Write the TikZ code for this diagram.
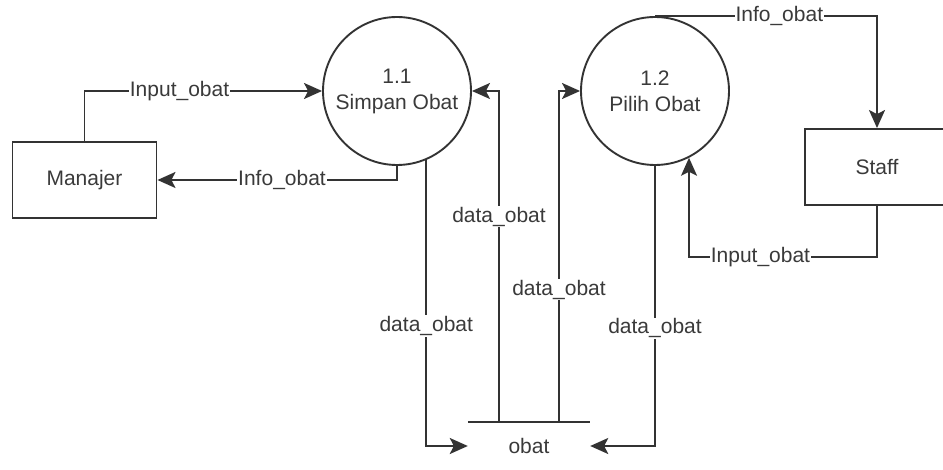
\documentclass[tikz,border=0pt]{standalone}
\usepackage{fontspec}
\setmainfont{Liberation Sans}
\usepackage{xcolor}
\usetikzlibrary{arrows.meta, positioning, calc}
\definecolor{dfdline}{HTML}{333333}
\definecolor{dfdtext}{HTML}{3A3A3A}
\tikzset{
  entity/.style={draw=dfdline, line width=1.9pt, minimum width=144pt,
                 minimum height=76pt, text=dfdtext},
  process/.style={draw=dfdline, line width=1.9pt, circle, minimum size=148pt,
                  align=center, text=dfdtext, inner sep=0pt},
  store/.style={minimum width=122pt, minimum height=48pt, text=dfdtext},
  flow/.style={-{Stealth[length=18pt, width=16pt, inset=4pt]}, line width=1.8pt,
               draw=dfdline},
  lbl/.style={fill=white, inner sep=1pt, text=dfdtext},
}

\begin{document}
\begin{tikzpicture}[x=1pt, y=-1pt, font=\fontsize{21}{26}\selectfont]
  \useasboundingbox (0,0) rectangle (943,470);
  \node[entity] (manajer) at (84.5,180) {Manajer};
  \node[entity] (staff) at (877,167) {Staff};
  \node[process] (simpan) at (397,91) {1.1\\Simpan Obat};
  \node[process] (pilih) at (655,91) {1.2\\Pilih Obat};
  \node[store] (obat) at (529,446) {obat};
  \draw[line width=1.9pt, draw=dfdline] (obat.north west) -- (obat.north east);
  % flows of 1.1
  \draw[flow] (manajer.north) |- node[lbl, pos=0.70]{Input\_obat} (simpan.west);
  \draw[flow] (simpan.south) |- node[lbl, pos=0.74]{Info\_obat} (manajer.east);
  \draw[flow] (simpan.-67) |- node[lbl, pos=0.29]{data\_obat} (obat.west);
  \draw[flow] ([xshift=-30pt]obat.north) |- node[lbl, pos=0.31]{data\_obat}
    (simpan.east);
  % flows of 1.2
  \draw[flow] ([xshift=30pt]obat.north) |- node[lbl, pos=0.2]{data\_obat}
    (pilih.west);
  \draw[flow] (pilih.south) |- node[lbl, pos=0.29]{data\_obat} (obat.east);
  \draw[flow] (pilih.north) -| node[lbl, pos=0.28]{Info\_obat} (staff.north);
  \draw[flow] (staff.south) -- ++(0,51) -| node[lbl, pos=0.31]{Input\_obat}
    (pilih.-63);
\end{tikzpicture}
\end{document}
